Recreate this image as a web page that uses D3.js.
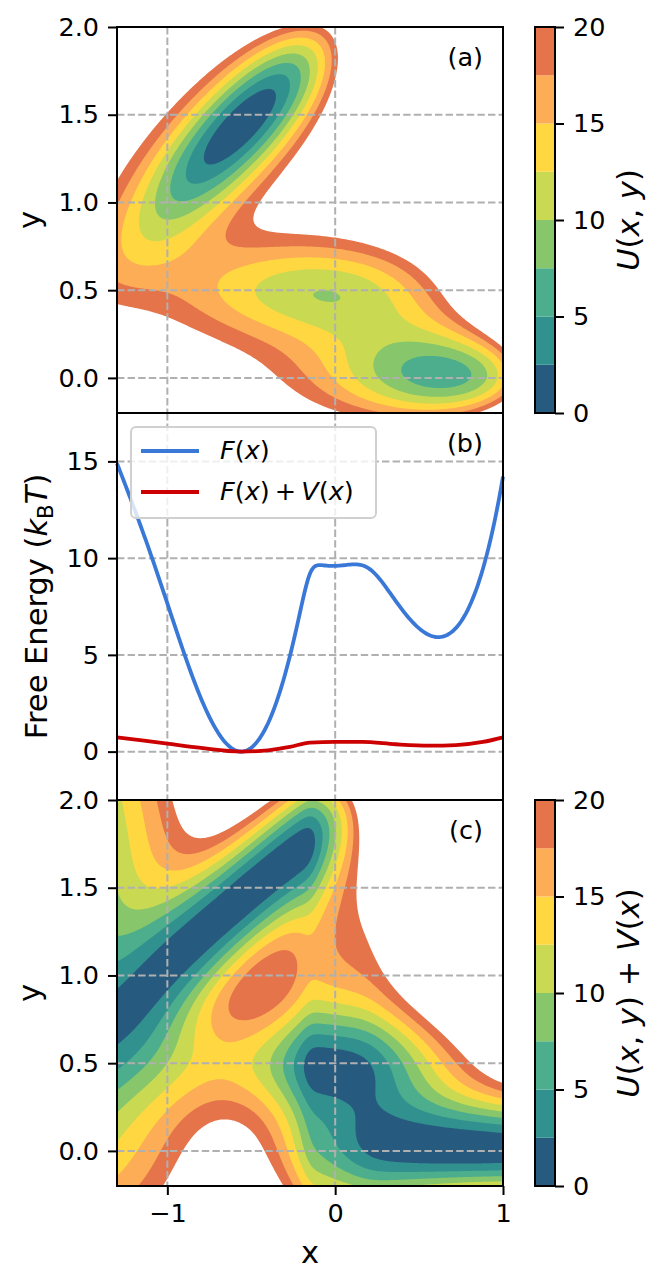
<!DOCTYPE html>
<html>
<head>
<meta charset="utf-8">
<script src="https://cdn.jsdelivr.net/npm/d3@7"></script>
<style>
  body { margin: 0; background: #fff; }
  text { font-family: "DejaVu Sans", sans-serif; fill: #000; }
</style>
</head>
<body>
<script>
// Mueller-Brown potential terms, scaled to kBT units
const amp = [-200, -100, -170, 15];
const ca = [-1, -1, -6.5, 0.7];
const cb = [0, 0, 11, 0.6];
const cc = [-10, -10, -6.5, 0.7];
const cx0 = [1, 0, -0.5, -1];
const cy0 = [0, 0.5, 1.5, 1];
const energyScale = 0.15;

const levels = [0, 2.5, 5, 7.5, 10, 12.5, 15, 17.5, 20];
const bandColors = ['#265b7f', '#31918f', '#4cae8d', '#87c66a', '#c9da52', '#fed741', '#fcad55', '#e5744a'];
const cbarTicks = [0, 5, 10, 15, 20];
const xTicks = [-1, 0, 1];
const yTicks = [0, 0.5, 1, 1.5, 2];
const feTicks = [0, 5, 10, 15];

// F(x) + V(x)
const biasX = [-1.3, -1.0, -0.8, -0.56, -0.4, -0.27, -0.15, 0, 0.16, 0.36, 0.56, 0.72, 0.88, 1.0];
const biasF = [0.74, 0.41, 0.19, 0.0, 0.07, 0.24, 0.47, 0.5, 0.5, 0.38, 0.31, 0.34, 0.5, 0.74];

const width = 665, height = 1287;
const left = 117, right = 503;
const panelA = [27, 413], panelB = [413, 800], panelC = [800, 1186];
const cbarX = 535, cbarW = 20;
const tickFont = 25.5, labelFont = 30.5;

const mb = (x, y) => {
  let s = 0;
  for (let k = 0; k < amp.length; k++) {
    const dx = x - cx0[k], dy = y - cy0[k];
    s += amp[k] * Math.exp(ca[k] * dx * dx + cb[k] * dx * dy + cc[k] * dy * dy);
  }
  return s;
};

// sample grid
const step = 0.01;
const nx = 231, ny = 221;
const gx = d3.range(nx).map(i => -1.3 + i * step);
const gy = d3.range(ny).map(j => -0.2 + j * step);

const raw = new Float64Array(nx * ny);
for (let j = 0; j < ny; j++)
  for (let i = 0; i < nx; i++) raw[j * nx + i] = mb(gx[i], gy[j]);
const rawMin = d3.min(raw);
const U = raw.map(v => energyScale * (v - rawMin));

// free energy along x
let F = gx.map((x, i) => {
  let z = 0;
  for (let j = 0; j < ny; j++) z += Math.exp(-U[j * nx + i]) * step;
  return -Math.log(z);
});
const fMin = d3.min(F);
F = F.map(v => v - fMin);

const bias = d3.scaleLinear().domain(biasX).range(biasF);
const UV = new Float64Array(nx * ny);
for (let j = 0; j < ny; j++)
  for (let i = 0; i < nx; i++) UV[j * nx + i] = U[j * nx + i] + bias(gx[i]) - F[i];

const svg = d3.select('body').append('svg')
  .attr('width', width)
  .attr('height', height);

const xScale = d3.scaleLinear().domain([-1.3, 1]).range([left, right]);

const styleAxis = g => {
  g.select('.domain').remove();
  g.selectAll('line').attr('stroke', '#000').attr('stroke-width', 2);
  g.selectAll('text').attr('font-size', tickFont).attr('font-family', '"DejaVu Sans", sans-serif');
};

const addGrid = (g, yScale, yVals, range) => {
  g.selectAll('.gx').data(xTicks).enter().append('line')
    .attr('x1', d => xScale(d)).attr('x2', d => xScale(d))
    .attr('y1', range[0]).attr('y2', range[1]);
  g.selectAll('.gy').data(yVals).enter().append('line')
    .attr('x1', left).attr('x2', right)
    .attr('y1', d => yScale(d)).attr('y2', d => yScale(d));
  g.selectAll('line')
    .attr('stroke', '#b0b0b0')
    .attr('stroke-width', 2)
    .attr('stroke-dasharray', '7.4,3.2');
};

const spine = range => {
  svg.append('rect')
    .attr('x', left).attr('y', range[0])
    .attr('width', right - left).attr('height', range[1] - range[0])
    .attr('fill', 'none').attr('stroke', '#000').attr('stroke-width', 2);
};

const rotLabel = (x, y, build) => {
  const t = svg.append('text')
    .attr('transform', `translate(${x},${y}) rotate(-90)`)
    .attr('text-anchor', 'middle')
    .attr('font-size', labelFont);
  build(t);
  return t;
};

const panelTag = (range, s) => {
  svg.append('text')
    .attr('x', 483).attr('y', range[0] + 39)
    .attr('text-anchor', 'end')
    .attr('font-size', tickFont)
    .text(s);
};

const contourPanel = (values, range, id, tag, cbarLabel) => {
  const yScale = d3.scaleLinear().domain([-0.2, 2.0]).range([range[1], range[0]]);
  svg.append('clipPath').attr('id', id)
    .append('rect').attr('x', left).attr('y', range[0])
    .attr('width', right - left).attr('height', range[1] - range[0]);

  const neg = Array.from(values, v => -v);
  const thresholds = levels.slice(1).map(t => -t).reverse();
  const bands = d3.contours().size([nx, ny]).thresholds(thresholds)(neg);
  const proj = d3.geoTransform({
    point(px, py) {
      this.stream.point(xScale(gx[0] + (px - 0.5) * step), yScale(gy[0] + (py - 0.5) * step));
    }
  });
  const path = d3.geoPath(proj);

  const g = svg.append('g').attr('clip-path', `url(#${id})`);
  g.selectAll('path').data(bands).enter().append('path')
    .attr('d', path)
    .attr('fill', d => bandColors[levels.indexOf(-d.value) - 1])
    .attr('stroke', 'none');

  addGrid(svg.append('g'), yScale, yTicks, range);
  spine(range);

  svg.append('g').attr('transform', `translate(${left},0)`)
    .call(d3.axisLeft(yScale).tickValues(yTicks).tickFormat(d3.format('.1f')).tickSize(9).tickPadding(9))
    .call(styleAxis);

  rotLabel(40, (range[0] + range[1]) / 2, t => {
    t.append('tspan').text('y');
  });
  panelTag(range, tag);

  // colorbar
  const cScale = d3.scaleLinear().domain([0, 20]).range([range[1], range[0]]);
  svg.append('g').selectAll('rect').data(bandColors).enter().append('rect')
    .attr('x', cbarX)
    .attr('y', (d, i) => cScale(levels[i + 1]))
    .attr('width', cbarW)
    .attr('height', (d, i) => cScale(levels[i]) - cScale(levels[i + 1]))
    .attr('fill', d => d);
  svg.append('rect')
    .attr('x', cbarX).attr('y', range[0])
    .attr('width', cbarW).attr('height', range[1] - range[0])
    .attr('fill', 'none').attr('stroke', '#000').attr('stroke-width', 2);
  svg.append('g').attr('transform', `translate(${cbarX + cbarW},0)`)
    .call(d3.axisRight(cScale).tickValues(cbarTicks).tickFormat(d3.format('d')).tickSize(9).tickPadding(9))
    .call(styleAxis);
  rotLabel(639, (range[0] + range[1]) / 2, cbarLabel);
  return yScale;
};

const ital = (t, s) => t.append('tspan').attr('font-style', 'italic').text(s);
const plain = (t, s) => t.append('tspan').text(s);

// panel (a)
contourPanel(U, panelA, 'clipA', '(a)', t => {
  ital(t, 'U'); plain(t, '('); ital(t, 'x'); plain(t, ', '); ital(t, 'y'); plain(t, ')');
});

// panel (b)
const feScale = d3.scaleLinear().domain([-2.5, 17.5]).range([panelB[1], panelB[0]]);
addGrid(svg.append('g'), feScale, feTicks, panelB);

const line = d3.line().x(d => xScale(d[0])).y(d => feScale(d[1]));
svg.append('path')
  .datum(gx.map((x, i) => [x, F[i]]))
  .attr('d', line)
  .attr('fill', 'none')
  .attr('stroke', '#3a78d8')
  .attr('stroke-width', 3.8);
svg.append('path')
  .datum(biasX.map((x, i) => [x, biasF[i]]))
  .attr('d', line.curve(d3.curveMonotoneX))
  .attr('fill', 'none')
  .attr('stroke', '#cc0000')
  .attr('stroke-width', 3.8);

spine(panelB);
svg.append('g').attr('transform', `translate(${left},0)`)
  .call(d3.axisLeft(feScale).tickValues(feTicks).tickFormat(d3.format('d')).tickSize(9).tickPadding(9))
  .call(styleAxis);

rotLabel(47, (panelB[0] + panelB[1]) / 2, t => {
  plain(t, 'Free Energy (');
  ital(t, 'k');
  t.append('tspan').attr('font-size', labelFont * 0.7).attr('dy', 6).text('B');
  t.append('tspan').attr('font-style', 'italic').attr('dy', -6).text('T');
  plain(t, ')');
});
panelTag(panelB, '(b)');

// legend
const legend = svg.append('g');
legend.append('rect')
  .attr('x', 131).attr('y', 427).attr('width', 245).attr('height', 91)
  .attr('rx', 5).attr('fill', '#fff').attr('fill-opacity', 0.8)
  .attr('stroke', '#d0d0d0').attr('stroke-width', 2);
const legendItems = [
  { color: '#3a78d8', parts: [['F', 1], ['(', 0], ['x', 1], [')', 0]] },
  { color: '#cc0000', parts: [['F', 1], ['(', 0], ['x', 1], [')\u2009+\u2009', 0], ['V', 1], ['(', 0], ['x', 1], [')', 0]] }
];
legendItems.forEach((item, k) => {
  const yy = 451 + k * 41;
  legend.append('line')
    .attr('x1', 141).attr('x2', 199).attr('y1', yy).attr('y2', yy)
    .attr('stroke', item.color).attr('stroke-width', 3.8);
  const t = legend.append('text')
    .attr('x', 220).attr('y', yy + 8)
    .attr('font-size', tickFont);
  item.parts.forEach(([s, it]) => (it ? ital(t, s) : plain(t, s)));
});

// panel (c)
contourPanel(UV, panelC, 'clipC', '(c)', t => {
  ital(t, 'U'); plain(t, '('); ital(t, 'x'); plain(t, ', '); ital(t, 'y');
  plain(t, ') + '); ital(t, 'V'); plain(t, '('); ital(t, 'x'); plain(t, ')');
});

svg.append('g').attr('transform', `translate(0,${panelC[1]})`)
  .call(d3.axisBottom(xScale).tickValues(xTicks).tickFormat(d3.format('d')).tickSize(9).tickPadding(9))
  .call(styleAxis);

svg.append('text')
  .attr('x', (left + right) / 2).attr('y', 1263)
  .attr('text-anchor', 'middle')
  .attr('font-size', labelFont)
  .text('x');
</script>
</body>
</html>
